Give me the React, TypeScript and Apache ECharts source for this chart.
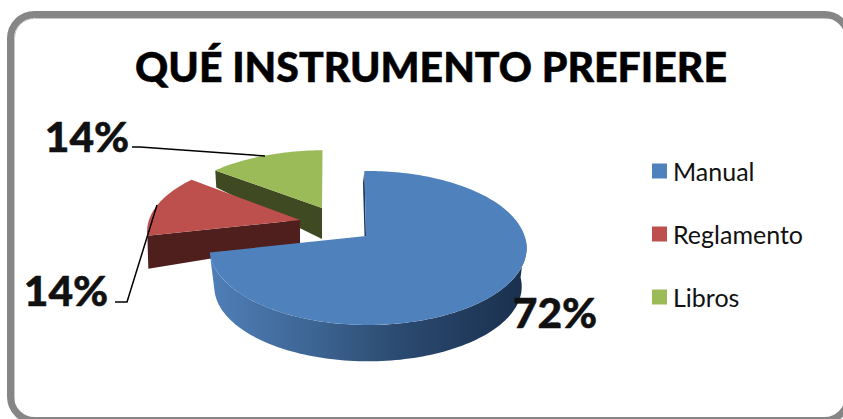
import React, { useEffect, useRef } from "react";
import * as echarts from "echarts";

const TITLE = "QUÉ INSTRUMENTO PREFIERE";
const categories = ["Manual", "Reglamento", "Libros"];
const percentages = [72, 14, 14];

const topColors = ["#4f81bd", "#bd504d", "#9bbb59"];
const radialWallColors = ["#1f3a5f", "#4f1f1e", "#3f4a22"];

const FONT = "Lato, Carlito, Calibri, sans-serif";
const START_ANGLE = -1.5;

// Perspective of the tilted disc: the far rim shrinks, the near rim grows.
const PERSPECTIVE = 0.1558;
const RADIUS_X = 159;
const RADIUS_Y = 75.1;

type Slice = {
  cx: number;
  cy: number;
  rimDx: number;
  sx: number;
  sy: number;
  depthNear: number;
  depthFar: number;
  labelX: number;
  labelY: number;
  leader: number[][] | null;
  z: number;
};

// Exploded position of each wedge, its thickness and where its label sits.
const slices: Slice[] = [
  { cx: 366, cy: 236, rimDx: 2, sx: 0.985, sy: 1, depthNear: 39, depthFar: 20, labelX: 555, labelY: 311, leader: null, z: 5 },
  {
    cx: 300, cy: 220, rimDx: 0, sx: 0.95, sy: 0.95, depthNear: 33, depthFar: 24, labelX: 66, labelY: 289,
    leader: [[115, 302], [127, 302], [157, 205]], z: 4,
  },
  {
    cx: 322, cy: 208, rimDx: 4, sx: 0.97, sy: 0.89, depthNear: 31, depthFar: 17, labelX: 87, labelY: 135,
    leader: [[132, 147], [140, 147], [265, 156]], z: 3,
  },
];

function rimPoint(s: Slice, deg: number): number[] {
  const t = (deg * Math.PI) / 180;
  const w = 1 + PERSPECTIVE * Math.cos(t);
  return [
    s.cx + s.rimDx + (s.sx * RADIUS_X * Math.sin(t)) / w,
    s.cy - (s.sy * RADIUS_Y * Math.cos(t)) / w,
  ];
}

function rimArc(s: Slice, from: number, to: number): number[][] {
  const pts: number[][] = [];
  const steps = Math.max(2, Math.ceil(Math.abs(to - from) / 1.5));
  for (let i = 0; i <= steps; i++) pts.push(rimPoint(s, from + ((to - from) * i) / steps));
  return pts;
}

function sliceRenderer(index: number) {
  return (_params: unknown, api: any) => {
    const value = api.value(0) as number;
    const total = percentages.reduce((a, b) => a + b, 0);
    const before = percentages.slice(0, index).reduce((a, b) => a + b, 0);
    const start = START_ANGLE + (before / total) * 360;
    const end = start + (value / total) * 360;
    const s = slices[index];
    const children: any[] = [];

    if (index === 0) {
      // Curved outer wall, seen along the near side of the big wedge.
      const under: Slice = { ...s, cy: s.cy + s.depthNear, sx: 0.955, sy: 0.97 };
      const front = rimArc(s, 92, end);
      const back = rimArc(under, end, 92);
      children.push({
        type: "polygon",
        shape: { points: [...front, ...back] },
        style: {
          fill: new echarts.graphic.LinearGradient(0, 0, 1, 0, [
            { offset: 0, color: "#4f7fb8" },
            { offset: 0.3, color: "#3f6796" },
            { offset: 0.6, color: "#2b4a70" },
            { offset: 1, color: "#1a2f4d" },
          ]),
        },
      });
      // Sliver of the inner cut face behind the top surface.
      const startRim = rimPoint(s, start);
      children.push({
        type: "polygon",
        shape: {
          points: [
            [s.cx, s.cy],
            startRim,
            [startRim[0] - 1.5, startRim[1] + 12],
            [s.cx - 1.5, s.cy],
          ],
        },
        style: { fill: radialWallColors[0] },
      });
    } else {
      // Flat cut face below the wedge's leading edge.
      const rim = rimPoint(s, start);
      const depthAtRim = index === 1 ? s.depthNear : s.depthFar;
      const depthAtApex = index === 1 ? s.depthFar : s.depthNear;
      children.push({
        type: "polygon",
        shape: {
          points: [
            rim,
            [s.cx, s.cy],
            [s.cx, s.cy + depthAtApex],
            [rim[0] + 1, rim[1] + depthAtRim],
          ],
        },
        style: { fill: radialWallColors[index] },
      });
    }

    children.push({
      type: "polygon",
      shape: { points: [[s.cx, s.cy], ...rimArc(s, start, end)] },
      style: { fill: topColors[index] },
    });

    if (s.leader) {
      children.push({
        type: "polyline",
        shape: { points: s.leader },
        style: { stroke: "#000000", lineWidth: 1.5, fill: "none" },
      });
    }

    children.push({
      type: "text",
      style: {
        text: `${value}%`,
        x: s.labelX,
        y: s.labelY,
        fill: "#111111",
        stroke: "#111111",
        lineWidth: 0.5,
        fontFamily: FONT,
        fontWeight: 900,
        fontSize: 42.5,
        textAlign: "center",
        textVerticalAlign: "middle",
      },
    });

    return { type: "group", children };
  };
}

export default function App() {
  const ref = useRef<HTMLDivElement>(null);

  useEffect(() => {
    const chart = echarts.init(ref.current!, null, { renderer: "svg" });
    chart.setOption({
      animation: false,
      backgroundColor: "#ffffff",
      title: {
        text: TITLE,
        left: 426,
        top: 41,
        textAlign: "center",
        textStyle: {
          fontFamily: FONT,
          fontWeight: 900,
          fontSize: 41,
          color: "#000000",
          textBorderColor: "#000000",
          textBorderWidth: 0.5,
        },
      },
      legend: {
        orient: "vertical",
        left: 652,
        top: 158.5,
        padding: 0,
        data: categories,
        icon: "rect",
        itemWidth: 15,
        itemHeight: 15,
        itemGap: 38,
        textStyle: { fontFamily: FONT, fontSize: 25, color: "#111111", padding: [0, 0, 0, 1] },
      },
      graphic: [
        {
          type: "rect",
          z: -2,
          shape: { x: 14.5, y: 18.5, width: 840, height: 410, r: 20 },
          style: { fill: "#ffffff", stroke: "#c8c8c8", lineWidth: 1 },
        },
        {
          type: "rect",
          z: -1,
          shape: { x: 10.5, y: 14.5, width: 838, height: 406, r: 24 },
          style: { fill: "none", stroke: "#868686", lineWidth: 7 },
        },
      ],
      series: categories.map((name, i) => ({
        type: "custom",
        name,
        coordinateSystem: "none",
        z: slices[i].z,
        itemStyle: { color: topColors[i] },
        data: [[percentages[i]]],
        renderItem: sliceRenderer(i),
      })),
    });
    return () => chart.dispose();
  }, []);

  return (
    <div
      ref={ref}
      style={{ position: "absolute", left: 0, top: 0, width: 843, height: 419, overflow: "hidden" }}
    />
  );
}
